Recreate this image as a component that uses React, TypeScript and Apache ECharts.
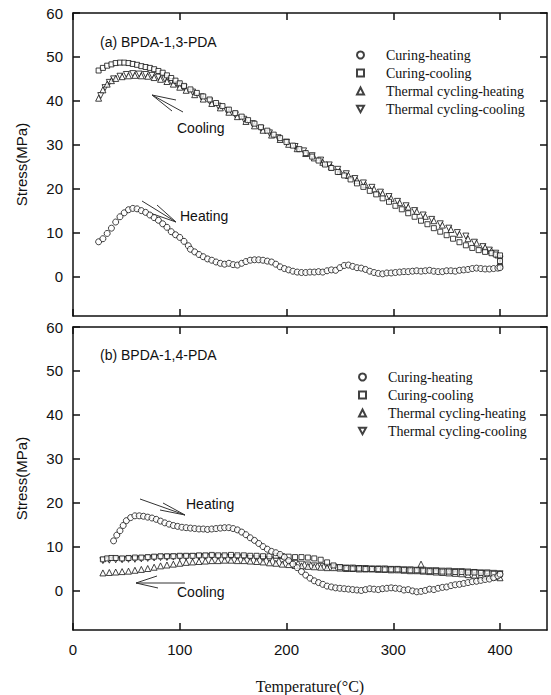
import React, { useEffect, useRef } from 'react';
import * as echarts from 'echarts';

// ---------- axes / labels ----------
const xTicks = [0, 100, 200, 300, 400];
const yTicks = [0, 10, 20, 30, 40, 50, 60];
const seriesNames = ['Curing-heating', 'Curing-cooling', 'Thermal cycling-heating', 'Thermal cycling-cooling'];
const panelTitles = ['(a) BPDA-1,3-PDA', '(b) BPDA-1,4-PDA'];
const xName = 'Temperature(°C)';
const yName = 'Stress(MPa)';

// ---------- panel (a) BPDA-1,3-PDA : [temperature °C, stress MPa] ----------
const aCuringHeating = [
  [24, 7.9], [28, 8.6], [32, 9.8], [36, 11.0], [40, 12.4], [44, 13.6], [48, 14.5], [52, 15.2], [56, 15.5], [60, 15.4],
  [64, 15.0], [68, 14.6], [72, 14.0], [76, 13.4], [80, 12.8], [84, 12.0], [88, 11.2], [92, 10.2], [96, 9.5], [100, 8.9],
  [104, 8.0], [108, 7.0], [110, 6.2], [114, 5.6], [118, 5.0], [122, 4.5], [126, 4.0], [130, 3.7], [134, 3.3], [138, 3.0],
  [142, 2.8], [146, 3.0], [150, 2.7], [154, 2.6], [158, 3.0], [162, 3.4], [166, 3.7], [170, 3.8], [174, 3.8], [178, 3.7],
  [182, 3.5], [186, 3.3], [190, 2.8], [194, 2.2], [198, 1.8], [202, 1.5], [206, 1.2], [210, 1.0], [214, 0.9], [218, 0.9],
  [222, 1.0], [226, 1.0], [230, 1.1], [234, 1.0], [238, 1.3], [242, 1.5], [246, 1.4], [250, 2.0], [254, 2.5], [258, 2.6],
  [262, 2.3], [266, 2.0], [270, 1.9], [274, 1.6], [278, 1.2], [282, 0.9], [286, 0.7], [290, 0.6], [294, 0.8], [298, 0.8],
  [302, 0.9], [306, 1.0], [310, 1.1], [314, 1.1], [318, 1.2], [322, 1.3], [326, 1.2], [330, 1.3], [334, 1.4], [338, 1.2],
  [342, 1.1], [346, 1.1], [350, 1.3], [354, 1.3], [358, 1.2], [362, 1.4], [366, 1.5], [370, 1.6], [374, 1.8], [378, 1.9],
  [382, 1.8], [386, 1.7], [390, 1.7], [394, 1.8], [398, 1.9], [400, 2.0],
];
const aCuringCooling = [
  [24, 46.9], [28, 47.5], [32, 48.0], [36, 48.3], [40, 48.6], [44, 48.7], [48, 48.7], [52, 48.6], [56, 48.4], [60, 48.2],
  [64, 47.9], [68, 47.7], [72, 47.5], [76, 47.2], [80, 46.8], [84, 46.4], [88, 45.8], [92, 45.2], [96, 44.6], [100, 44.0],
  [104, 43.4], [110, 42.6], [116, 41.8], [122, 41.0], [128, 40.3], [134, 39.5], [140, 38.8], [146, 38.0], [152, 37.2],
  [158, 36.4], [164, 35.6], [170, 34.8], [176, 34.0], [182, 33.2], [188, 32.3], [194, 31.5], [200, 30.6], [206, 29.8],
  [212, 29.0], [218, 28.1], [224, 27.3], [230, 26.4], [236, 25.5], [242, 24.7], [248, 23.8], [254, 23.0], [260, 22.1],
  [266, 21.2], [272, 20.4], [278, 19.5], [284, 18.7], [290, 17.8], [296, 17.0], [302, 16.1], [308, 15.3], [314, 14.4],
  [320, 13.6], [326, 12.7], [332, 11.9], [338, 11.0], [344, 10.2], [350, 9.4], [356, 8.6], [362, 7.8], [368, 7.1],
  [374, 6.5], [380, 6.0], [386, 5.6], [392, 5.3], [396, 5.0], [400, 4.8], [400, 3.5], [400, 2.2],
];
const aThermalHeating = [
  [24, 40.6], [28, 42.5], [32, 43.8], [36, 44.6], [40, 45.1], [46, 45.5], [52, 45.7], [58, 45.8], [64, 45.7], [70, 45.6],
  [76, 45.3], [82, 44.9], [88, 44.4], [94, 43.8], [100, 43.1], [106, 42.4], [114, 41.4], [122, 40.4], [130, 39.4],
  [138, 38.4], [146, 37.4], [154, 36.4], [162, 35.3], [170, 34.3], [178, 33.3], [186, 32.2], [194, 31.2], [202, 30.1],
  [210, 29.1], [218, 28.0], [226, 27.0], [234, 26.0], [242, 25.0], [250, 23.9], [258, 23.0], [266, 21.9], [274, 20.9],
  [282, 19.9], [290, 18.9], [298, 17.8], [306, 16.8], [314, 15.8], [322, 14.8], [330, 13.7], [338, 12.7], [346, 11.7],
  [354, 10.7], [362, 9.6], [370, 8.6], [378, 7.6], [386, 6.6], [392, 5.8], [398, 4.9], [400, 3.0],
];
const aThermalCooling = [
  [26, 41.2], [30, 43.0], [34, 44.2], [38, 45.0], [44, 45.6], [50, 46.0], [56, 46.2], [62, 46.1], [68, 46.0], [74, 45.8],
  [80, 45.4], [86, 45.0], [92, 44.4], [98, 43.7], [104, 43.0], [112, 42.0], [120, 40.9], [128, 39.9], [136, 38.8],
  [144, 37.8], [152, 36.8], [160, 35.8], [168, 34.8], [176, 33.7], [184, 32.7], [192, 31.6], [200, 30.6], [208, 29.6],
  [216, 28.6], [224, 27.5], [232, 26.5], [240, 25.4], [248, 24.4], [256, 23.4], [264, 22.3], [272, 21.3], [280, 20.3],
  [288, 19.2], [296, 18.2], [304, 17.1], [312, 16.1], [320, 15.0], [328, 14.0], [336, 13.0], [344, 12.0], [352, 11.0],
  [360, 10.0], [368, 9.2], [376, 7.8], [384, 6.8], [390, 6.0], [396, 5.3], [400, 4.0],
];

// ---------- panel (b) BPDA-1,4-PDA ----------
const bCuringHeating = [
  [38, 11.3], [41, 12.6], [44, 13.6], [47, 14.8], [50, 15.9], [54, 16.6], [58, 17.0], [62, 17.0], [66, 16.9], [70, 16.7],
  [74, 16.5], [78, 16.2], [82, 15.8], [86, 15.4], [90, 15.1], [94, 14.8], [98, 14.6], [102, 14.4], [106, 14.3], [110, 14.2],
  [114, 14.1], [118, 14.0], [122, 14.0], [126, 13.9], [130, 14.0], [134, 14.1], [138, 14.2], [142, 14.3], [146, 14.3],
  [150, 14.1], [154, 13.8], [158, 13.3], [162, 12.7], [166, 12.0], [170, 11.4], [174, 10.7], [178, 10.0], [182, 9.4],
  [186, 8.9], [190, 8.6], [194, 8.2], [198, 7.6], [202, 6.8], [206, 6.0], [210, 5.2], [214, 4.3], [218, 3.5], [222, 2.8],
  [226, 2.2], [230, 1.8], [234, 1.4], [238, 1.0], [242, 0.8], [246, 0.6], [250, 0.5], [254, 0.4], [258, 0.3], [262, 0.2],
  [266, 0.1], [270, 0.0], [274, 0.2], [278, 0.4], [282, 0.3], [286, 0.2], [290, 0.4], [294, 0.5], [298, 0.6], [302, 0.5],
  [306, 0.4], [310, 0.1], [314, 0.2], [318, -0.1], [322, -0.3], [326, -0.2], [330, 0.0], [334, 0.3], [338, 0.2], [342, 0.5],
  [346, 0.7], [350, 0.8], [354, 1.1], [358, 1.3], [362, 1.4], [366, 1.6], [370, 1.8], [374, 2.0], [378, 2.1], [382, 2.3],
  [386, 2.5], [390, 2.6], [394, 2.9], [398, 3.3], [400, 3.7],
];
const bCuringCooling = [
  [28, 7.1], [32, 7.3], [36, 7.4], [40, 7.4], [46, 7.3], [52, 7.4], [58, 7.5], [64, 7.5], [70, 7.6], [76, 7.7], [82, 7.8],
  [88, 7.8], [94, 7.8], [100, 7.9], [106, 7.9], [112, 7.9], [118, 8.0], [124, 8.0], [130, 8.1], [136, 8.0], [142, 8.0],
  [148, 8.1], [154, 8.0], [160, 8.0], [166, 7.9], [172, 7.9], [178, 7.8], [184, 7.8], [190, 7.9], [196, 7.8], [202, 7.7],
  [208, 7.6], [214, 7.6], [220, 7.5], [226, 7.3], [232, 7.0], [238, 6.4], [244, 5.7], [250, 5.3], [256, 5.1], [262, 5.0],
  [268, 5.0], [274, 4.9], [280, 4.9], [286, 4.9], [292, 4.8], [298, 4.8], [304, 4.8], [310, 4.7], [316, 4.6], [322, 4.6],
  [328, 4.5], [334, 4.4], [340, 4.4], [346, 4.3], [352, 4.3], [358, 4.2], [364, 4.2], [370, 4.1], [376, 4.1], [382, 4.0],
  [388, 3.9], [394, 3.8], [400, 3.7],
];
const bThermalHeating = [
  [28, 4.0], [34, 4.1], [40, 4.2], [46, 4.3], [52, 4.4], [58, 4.6], [64, 4.8], [70, 5.0], [76, 5.3], [82, 5.6], [88, 5.8],
  [94, 6.0], [100, 6.2], [106, 6.4], [112, 6.5], [118, 6.6], [124, 6.7], [130, 6.8], [136, 6.8], [142, 6.9], [148, 6.9],
  [154, 6.8], [160, 6.8], [166, 6.7], [172, 6.6], [178, 6.5], [184, 6.3], [190, 6.2], [196, 6.0], [202, 5.9], [208, 5.7],
  [214, 5.6], [220, 5.5], [226, 5.4], [232, 5.3], [238, 5.2], [244, 5.2], [250, 5.1], [256, 5.0], [262, 5.0], [268, 4.9],
  [274, 4.9], [280, 4.9], [286, 4.8], [292, 4.8], [298, 4.7], [304, 4.7], [310, 4.6], [316, 4.5], [322, 4.5], [326, 6.0],
  [328, 4.4], [334, 4.3], [340, 4.2], [346, 4.1], [352, 4.0], [358, 3.9], [364, 3.8], [370, 3.6], [376, 3.5], [382, 3.4],
  [388, 3.3], [394, 3.1], [400, 2.9],
];
const bThermalCooling = [
  [28, 6.8], [34, 6.9], [40, 7.0], [46, 7.0], [52, 7.1], [58, 7.1], [64, 7.2], [70, 7.3], [76, 7.4], [82, 7.5], [88, 7.5],
  [94, 7.6], [100, 7.6], [106, 7.6], [112, 7.7], [118, 7.7], [124, 7.7], [130, 7.7], [136, 7.6], [142, 7.6], [148, 7.5],
  [154, 7.5], [160, 7.4], [166, 7.3], [172, 7.2], [178, 7.1], [184, 7.0], [190, 6.8], [196, 6.6], [202, 6.4], [208, 6.2],
  [214, 6.0], [220, 5.8], [226, 5.6], [232, 5.5], [238, 5.4], [244, 5.3], [250, 5.2], [256, 5.1], [262, 5.1], [268, 5.0],
  [274, 5.0], [280, 4.9], [286, 4.9], [292, 4.9], [298, 4.8], [304, 4.8], [310, 4.7], [316, 4.7], [322, 4.6], [328, 4.6],
  [334, 4.5], [340, 4.5], [346, 4.4], [352, 4.4], [358, 4.3], [364, 4.3], [370, 4.2], [376, 4.1], [382, 4.0], [388, 4.0],
  [394, 3.9], [400, 3.8],
];

const INK = '#111';
const symbols = ['circle', 'rect', 'triangle', 'path://M0,0L10,0L5,9Z'];
const sizes = [6, 5, 6, 6];

function scatter(i: number, data: number[][], panel: number) {
  return {
    type: 'scatter',
    name: seriesNames[i],
    data,
    xAxisIndex: panel * 2,
    yAxisIndex: panel * 2,
    symbol: symbols[i],
    symbolSize: sizes[i],
    itemStyle: { color: '#fff', borderColor: INK, borderWidth: 1 },
    silent: true,
  };
}

const lineStyle = { color: INK, width: 1.5 };

function xAxis(grid: number, pos: 'top' | 'bottom', labels: boolean) {
  return {
    type: 'value',
    gridIndex: grid,
    position: pos,
    min: 0,
    max: 444,
    axisLine: { show: true, onZero: false, lineStyle },
    axisTick: { show: true, inside: true, length: 7, customValues: xTicks, lineStyle },
    axisLabel: {
      show: labels,
      customValues: xTicks,
      margin: 12,
      fontFamily: 'Liberation Sans',
      fontSize: 15,
      color: INK,
    },
    splitLine: { show: false },
    name: labels ? xName : '',
    nameLocation: 'middle',
    nameGap: 48,
    nameTextStyle: { fontFamily: 'Liberation Serif', fontSize: 16, color: INK },
  };
}

function yAxis(grid: number, pos: 'left' | 'right') {
  const left = pos === 'left';
  return {
    type: 'value',
    gridIndex: grid,
    position: pos,
    min: -9,
    max: 60,
    axisLine: { show: true, onZero: false, lineStyle },
    axisTick: { show: true, inside: true, length: 7, customValues: yTicks, lineStyle },
    axisLabel: {
      show: left,
      customValues: yTicks,
      margin: 10,
      fontFamily: 'Liberation Sans',
      fontSize: 15,
      color: INK,
    },
    splitLine: { show: false },
    name: left ? yName : '',
    nameLocation: 'middle',
    nameGap: 44,
    nameTextStyle: { fontFamily: 'Liberation Sans', fontSize: 15, color: INK },
  };
}

function legend(left: number, top: number) {
  return {
    data: seriesNames,
    orient: 'vertical',
    left,
    top,
    padding: 0,
    itemWidth: 7,
    itemHeight: 7,
    itemGap: 4,
    selectedMode: false,
    textStyle: { fontFamily: 'Liberation Serif', fontSize: 14, color: INK, padding: [0, 0, 0, 17] },
  };
}

function seg(x1: number, y1: number, x2: number, y2: number) {
  return { type: 'line', shape: { x1, y1, x2, y2 }, style: { stroke: '#333', lineWidth: 1 }, silent: true };
}
function note(text: string, x: number, y: number) {
  return {
    type: 'text',
    x,
    y,
    silent: true,
    style: { text, fill: INK, font: '14px "Liberation Sans"', verticalAlign: 'middle', align: 'left' },
  };
}

export default function App() {
  const ref = useRef<HTMLDivElement>(null);
  useEffect(() => {
    if (!ref.current) return;
    const chart = echarts.init(ref.current, undefined, { renderer: 'svg' });
    chart.setOption({
      animation: false,
      backgroundColor: '#fff',
      grid: [
        { left: 73, top: 13, width: 474, height: 303 },
        { left: 73, top: 327, width: 474, height: 303 },
      ],
      title: [
        { text: panelTitles[0], left: 100, top: 35, padding: 0, textStyle: { fontFamily: 'Liberation Sans', fontSize: 14, fontWeight: 'normal', color: INK } },
        { text: panelTitles[1], left: 100, top: 348, padding: 0, textStyle: { fontFamily: 'Liberation Sans', fontSize: 14, fontWeight: 'normal', color: INK } },
      ],
      legend: [legend(356, 48), legend(358, 370)],
      xAxis: [xAxis(0, 'bottom', false), xAxis(0, 'top', false), xAxis(1, 'bottom', true), xAxis(1, 'top', false)],
      yAxis: [yAxis(0, 'left'), yAxis(0, 'right'), yAxis(1, 'left'), yAxis(1, 'right')],
      series: [
        scatter(3, aThermalCooling, 0),
        scatter(2, aThermalHeating, 0),
        scatter(1, aCuringCooling, 0),
        scatter(0, aCuringHeating, 0),
        scatter(3, bThermalCooling, 1),
        scatter(2, bThermalHeating, 1),
        scatter(1, bCuringCooling, 1),
        scatter(0, bCuringHeating, 1),
      ],
      graphic: [
        // (a) cooling arrow
        seg(152, 95, 183, 112), seg(152, 95, 176, 100), seg(152, 95, 172, 111),
        note('Cooling', 177, 128),
        // (a) heating arrow
        seg(142, 201, 176, 222), seg(157, 205, 176, 222), seg(150, 213, 176, 222),
        note('Heating', 180, 216),
        // (b) heating arrow
        seg(140, 499, 185, 515), seg(163, 503, 185, 515), seg(160, 510, 185, 515),
        note('Heating', 186, 504),
        // (b) cooling arrow
        seg(136, 583, 185, 583), seg(136, 583, 157, 576), seg(136, 583, 158, 588),
        note('Cooling', 177, 592),
      ],
    });
    return () => chart.dispose();
  }, []);
  return <div ref={ref} style={{ position: 'absolute', left: 0, top: 0, width: 551, height: 695 }} />;
}
